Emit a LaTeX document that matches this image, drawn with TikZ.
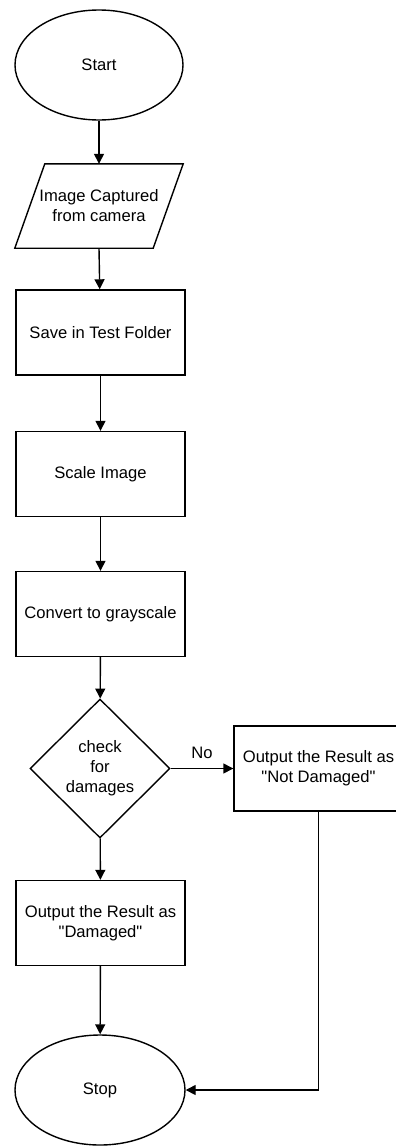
\documentclass[tikz,border=0pt]{standalone}
\usepackage{fontspec}
\setmainfont{Liberation Sans}[Ligatures=TeXOff]
\usetikzlibrary{shapes.geometric,arrows.meta}
\begin{document}
\begin{tikzpicture}[x=1pt,y=-1pt,
  every node/.style={font=\fontsize{16.6}{20}\selectfont},
  line/.style={line width=1.4pt},
  arr/.style={line width=1.4pt,-{Triangle[length=10pt,width=10pt]}},
  procbox/.style={draw,line width=1.4pt,rectangle,minimum width=169pt,minimum height=85pt,align=center,inner sep=0pt},
  term/.style={draw,line width=1.4pt,ellipse,minimum width=168pt,minimum height=110pt,inner sep=0pt},
  decis/.style={draw,line width=1.4pt,diamond,minimum width=140pt,minimum height=139pt,inner sep=0pt,align=center}]
\useasboundingbox (0,0) rectangle (396,1146);
\clip (0,0) rectangle (396,1146);
\node[term] (start) at (99,65) {Start};
\node[rectangle,minimum width=138pt,minimum height=84pt,inner sep=0pt,align=center] (img) at (99,206) {Image Captured\\from camera};
\draw[line] ([xshift=15pt]img.north west) -- ([xshift=15pt]img.north east) -- ([xshift=-15pt]img.south east) -- ([xshift=-15pt]img.south west) -- cycle;
\node[procbox] (save) at (100.5,332.5) {Save in Test Folder};
\node[procbox] (scale) at (100.5,474) {Scale Image};
\node[procbox] (gray) at (100.5,614) {Convert to grayscale};
\node[decis] (check) at (100,768.5) {check\\for\\damages};
\node[procbox] (notdam) at (318.5,768.5) {Output the Result as\\"Not Damaged"};
\node[procbox] (dam) at (100.5,923) {Output the Result as\\"Damaged"};
\node[term,minimum width=170pt] (stop) at (100,1090) {Stop};
\draw[arr] (start) -- (img.north);
\draw[arr] (img.south) -- (save);
\draw[arr] (save) -- (scale);
\draw[arr] (scale) -- (gray);
\draw[arr] (gray) -- (check);
\draw[arr] (check) -- node[above=6pt] (no) {No} (notdam);
\draw[arr] (check) -- (dam);
\draw[arr] (dam) -- (stop);
\draw[arr] (notdam.south) |- (stop.east);
\end{tikzpicture}
\end{document}
